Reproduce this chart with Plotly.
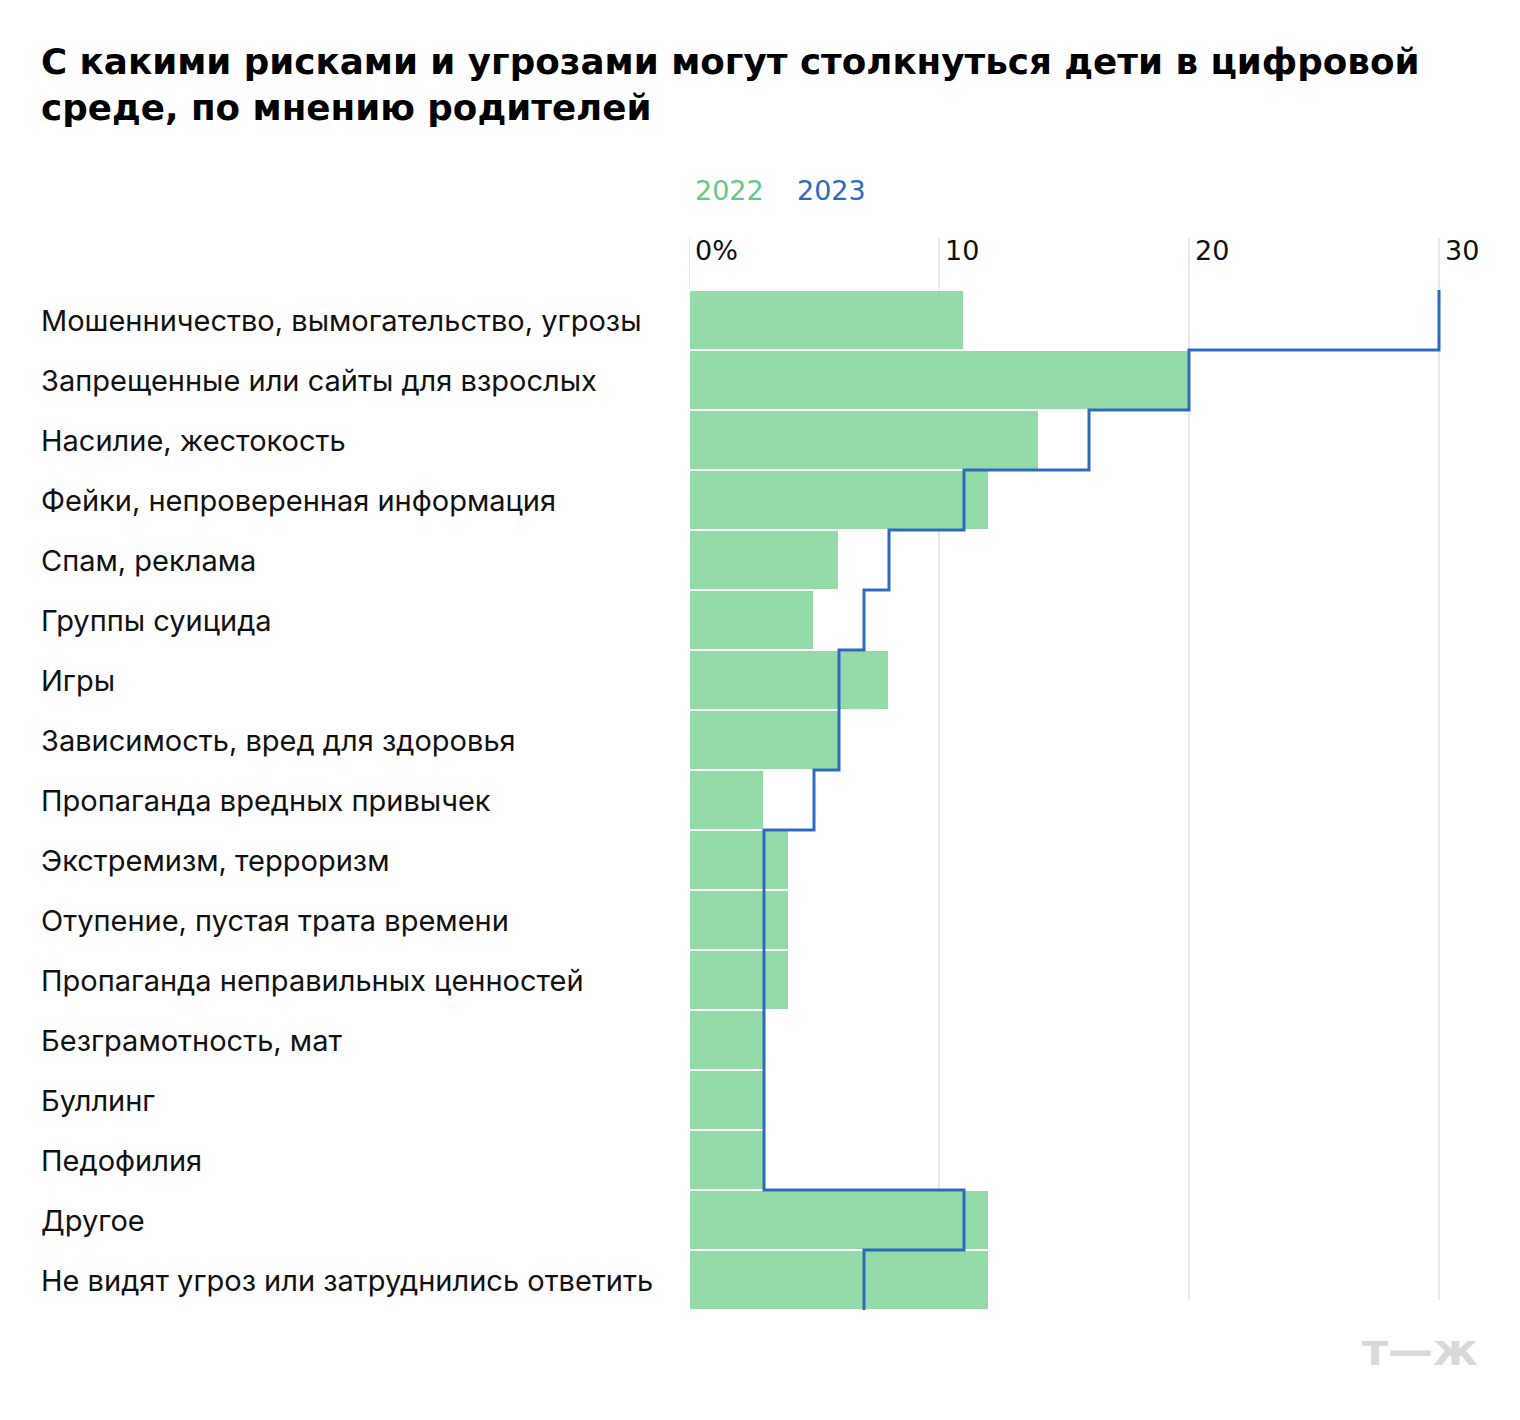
import plotly.graph_objects as go

categories = [
    "Мошенничество, вымогательство, угрозы",
    "Запрещенные или сайты для взрослых",
    "Насилие, жестокость",
    "Фейки, непроверенная информация",
    "Спам, реклама",
    "Группы суицида",
    "Игры",
    "Зависимость, вред для здоровья",
    "Пропаганда вредных привычек",
    "Экстремизм, терроризм",
    "Отупение, пустая трата времени",
    "Пропаганда неправильных ценностей",
    "Безграмотность, мат",
    "Буллинг",
    "Педофилия",
    "Другое",
    "Не видят угроз или затруднились ответить",
]
values_2022 = [11, 20, 14, 12, 6, 5, 8, 6, 3, 4, 4, 4, 3, 3, 3, 12, 12]
values_2023 = [30, 20, 16, 11, 8, 7, 6, 6, 5, 3, 3, 3, 3, 3, 3, 11, 7]
tick_vals = [0, 10, 20, 30]
tick_text = ["0%", "10", "20", "30"]
series_names = ["2022", "2023"]

FONT = "Inter"
FONT_WIDE = "DejaVu Sans"
GREEN_BAR = "#8ad8a0"
GREEN_TXT = "#63c985"
BLUE = "#2f6bbd"
GRID = "#e2e2e2"

W, H = 1520, 1420
L, R = 689, 31
T, B = 235, 1420 - 1310

n = len(categories)
pos = list(range(n))

fig = go.Figure()

fig.add_trace(go.Bar(
    y=pos, x=values_2022, orientation="h", width=1,
    marker=dict(color=GREEN_BAR, opacity=0.9, line=dict(color="white", width=2)),
    name=series_names[0], hoverinfo="x+name",
))

step_y = [i - 0.5 for i in pos] + [n - 0.5]
step_x = values_2023 + [values_2023[-1]]
fig.add_trace(go.Scatter(
    x=step_x, y=step_y, mode="lines", line=dict(color=BLUE, width=3, shape="vh"),
    name=series_names[1], hoverinfo="skip",
))

# y range: plot top at T, rows begin at 290 (row height 60 px)
first_row_px = 290
row_px = (H - B - first_row_px) / n
y_top = -0.5 - (first_row_px - T) / row_px
grid_top = -0.5 - (first_row_px - 238) / row_px
grid_bottom = n - 0.5 - 10 / row_px

shapes = []
for v in tick_vals:
    shapes.append(dict(type="line", xref="x", yref="y", x0=v, x1=v,
                       y0=grid_top, y1=grid_bottom, layer="below",
                       line=dict(color=GRID, width=1.5)))

annotations = []
plot_w = W - L - R
plot_h = H - T - B


def px_x(pix):
    return (pix - L) / plot_w


def px_y(pix):
    return (H - B - pix) / plot_h


for i, c in enumerate(categories):
    annotations.append(dict(
        x=px_x(39), xref="paper", y=i, yref="y", text=c,
        xanchor="left", yanchor="middle", showarrow=False,
        font=dict(family=FONT, size=29, color="#111111"),
    ))

# legend labels
annotations.append(dict(x=px_x(693), xref="paper", y=px_y(190), yref="paper",
                        text=series_names[0], xanchor="left", yanchor="middle", showarrow=False,
                        font=dict(family=FONT_WIDE, size=27, color=GREEN_TXT)))
annotations.append(dict(x=px_x(795), xref="paper", y=px_y(190), yref="paper",
                        text=series_names[1], xanchor="left", yanchor="middle", showarrow=False,
                        font=dict(family=FONT_WIDE, size=27, color=BLUE)))
# logo
annotations.append(dict(x=px_x(1480), xref="paper", y=px_y(1350), yref="paper",
                        text="<b>т—ж</b>", xanchor="right", yanchor="middle", showarrow=False,
                        font=dict(family=FONT_WIDE, size=45, color="#d9d9d9")))

fig.update_layout(
    width=W, height=H,
    margin=dict(l=L, r=R, t=T, b=B),
    paper_bgcolor="white", plot_bgcolor="white",
    showlegend=False,
    bargap=0,
    title=dict(
        text="<b>С какими рисками и угрозами могут столкнуться дети в цифровой<br>среде, по мнению родителей</b>",
        x=41 / W, xref="container", xanchor="left",
        y=1 - 74 / H, yref="container", yanchor="top",
        font=dict(family=FONT_WIDE, size=35.7, color="#000000"),
    ),
    xaxis=dict(
        range=[0, 32], side="top", tickvals=tick_vals, ticktext=tick_text,
        ticklabelposition="inside right", ticklabelshift=6,
        showgrid=False, zeroline=False, showline=False, ticks="",
        tickfont=dict(family=FONT_WIDE, size=27, color="#111111"),
        fixedrange=True,
    ),
    yaxis=dict(
        range=[n - 0.5, y_top], showticklabels=False, showgrid=False,
        zeroline=False, showline=False, ticks="", fixedrange=True,
    ),
    shapes=shapes,
    annotations=annotations,
)

fig.write_html("out.html")
